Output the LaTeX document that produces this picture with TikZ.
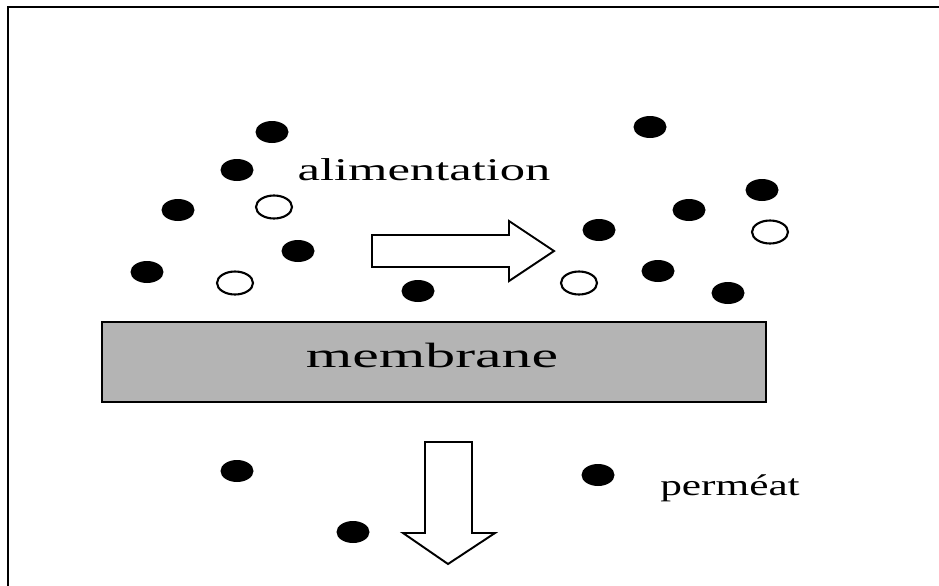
\documentclass[tikz,border=0pt]{standalone}
\usepackage{fontspec}
\setmainfont{Liberation Serif}
\usetikzlibrary{shapes.geometric}
\tikzset{
  full/.style={ellipse,fill=black,inner sep=0pt,minimum width=.66cm,minimum height=.44cm},
  hollow/.style={ellipse,draw=black,line width=1.2pt,fill=white,inner sep=0pt,minimum width=.72cm,minimum height=.46cm},
  bigarrow/.style={draw=black,line width=1.1pt,fill=white,line join=miter},
  word/.style={inner sep=0pt,anchor=base}
}
\begin{document}
\begin{tikzpicture}[x=.02cm,y=-.02cm]
\useasboundingbox(0,0)rectangle(939,585);
\clip(0,0)rectangle(939,585);
\fill[white](0,0)rectangle(939,585);
\draw[line width=1.7pt](8,7)rectangle(960,610);
% feed side
\foreach \px/\py [count=\i] in {272/132,237/170,178/210,298/251,147/272,418/291,650/127,762/190,689/210,599/230,658/271,728/293}
  \node[full](f\i)at(\px,\py){};
\foreach \px/\py [count=\i] in {274/207,235/283,579/283,770/232}
  \node[hollow](o\i)at(\px,\py){};
% permeate side
\foreach \px/\py [count=\i] in {237/471,598/475,353/532}
  \node[full](p\i)at(\px,\py){};
\node[draw=black,line width=1.1pt,fill={rgb,255:red,180;green,180;blue,180},minimum width=13.28cm,minimum height=1.6cm,inner sep=0pt](membrane)at(434,362){};
\node[word](membranetext)at(432,367){\fontsize{20}{24}\selectfont\scalebox{1.7}[1]{membrane}};
\node[word](alimentation)at(424,180){\fontsize{18}{22}\selectfont\scalebox{1.6}[1]{alimentation}};
\node[word](permeat)at(730,495){\fontsize{17}{20}\selectfont\scalebox{1.45}[1]{perméat}};
\draw[bigarrow](372,235)--(509,235)--(509,221)--(554,251)--(509,281)--(509,267)--(372,267)--cycle;
\draw[bigarrow](425,442)--(472,442)--(472,533)--(495,533)--(448,564)--(403,533)--(425,533)--cycle;
\end{tikzpicture}
\end{document}
